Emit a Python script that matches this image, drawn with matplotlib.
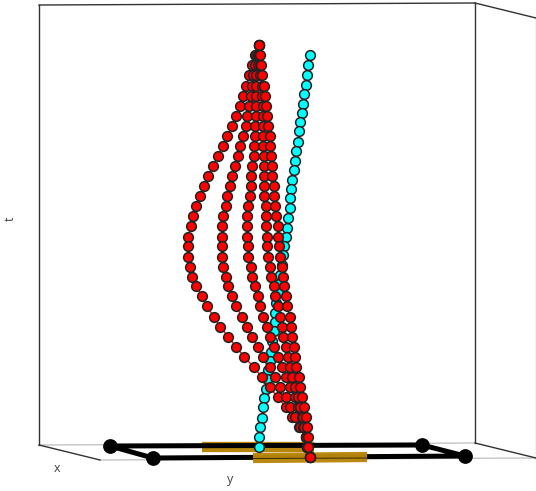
import matplotlib
matplotlib.use("Agg")
import matplotlib.pyplot as plt

# Projected positions (horizontal, vertical)
red_rows = [44.7,55,64.7,75,85.7,95.7,106,116,126.3,135.7,146,155.7,166,175.7,186,196,206.3,216,226,236.7,
            246,256.7,266.7,276.7,286,296.3,306.3,316.7,327,336.7,347.3,356.7,367.3,376.7,387.3,397.3,406.7,417.3,427.3,436.7,447.3,456.7]
red_1 = [258.7,255,252.3,249.3,246.3,243,240,236.3,232.3,227.3,223,217.7,213.3,208.3,204,200.3,196.3,193.3,191,188.3,
         188.3,188.3,189.7,192.3,196.3,201.7,207,213.7,220.3,228.3,236.3,244.3,253.7,261.7,269.7,277.7,285.7,292.3,299,305.7,307,309.7]
red_2 = [258.7,256.3,255,253.3,252.3,251,249.3,247,245.7,243,240.3,237.7,235,232.3,229.7,227,225.7,223,221.7,221.7,
         221.7,221.7,223,225.7,228.3,232.3,236.3,241.7,247,252.3,257.7,263,269.7,275,280.3,285.7,289.7,295,300.3,305.7,307,309.7]
red_3 = [258.7,257.7,257.7,256.3,256.3,256.3,256.3,256.3,255,255,253.7,253.7,252.3,251,251,249.7,248.3,247,247,247,
         248.3,248.3,251,252.3,255,257.7,260.3,263,267,269.7,273.7,277.7,281.7,285.7,289.7,295,297.7,301.7,303,305.7,307,309.7]
red_4 = [258.7,258.7,260,260,261.7,261.7,263,263,263,263,263,264.3,264.3,264.3,264.3,264.3,265.7,265.7,265.7,267,
         267,268.3,269.7,271,273.7,275,277.7,280.3,281.7,283,285.7,288.3,289.7,292.3,295,297.7,300.3,303,304.3,305.7,307,309.7]
red_5 = [258.7,260,261.3,262.3,263.7,265,265.7,267,268.3,269.7,270.3,271,271.7,272.3,273.7,273.7,275,276.3,277.7,277.7,
         279,280.3,281.7,283,284.3,285.7,287,289.7,291,292.3,293.7,295,296.3,299,300.3,301.7,304.3,305.7,307,308.3,308.3,309.7]
cyan_x = [309.7,308.3,307,305.7,304.3,303,301.7,300.3,299,297.7,296.3,295,293.7,292.3,291,289.7,289.7,288.3,287,285.7,
          284.3,283,281.7,280.3,279,277.7,276.3,275,275,273.7,272.3,271,269.7,268.3,267,265.7,264.3,263,261.7,260.3,259,259]
cyan_y = [55,64.7,75,85,94.3,103.7,112.7,122,131.3,142,151.3,161,170.3,179.7,189,198.3,207.7,218.3,227.7,236.7,
          246,255.3,265.3,274.7,284,293.3,303.3,312.7,322,331.3,340.7,352,360.7,370,379.3,389.3,398,407.3,418,427.3,436.7,446.7]
frame_x = [110,422,465,153,110]
frame_y = [446,445,456,458,446]
gold_a_x, gold_a_y = [202,314], [447,447]
gold_b_x, gold_b_y = [253,367], [458,457]
box_dark = [([39,39],[445,5]),([39,100],[445,460]),([39,475],[5,3]),([475,475],[3,443]),([475,536],[3,18]),([475,536],[443,458])]
box_light = [([39,475],[445,443]), ([100,536],[460,458]), ([535.5,535.5],[18,458])]
labels = [("x",57,469,0),("y",230,479,0),("t",10,219,90)]

fig = plt.figure(figsize=(5.36,4.91),dpi=100)
ax = fig.add_axes([0,0,1,1])
ax.set_xlim(0,536); ax.set_ylim(491,0); ax.axis("off")

for xs,ys in box_light:
    ax.plot(xs,ys,color="#c4c4c4",lw=1.0,zorder=1,clip_on=False)
for xs,ys in box_dark:
    ax.plot(xs,ys,color="#333333",lw=1.0,zorder=1,clip_on=False)

ax.plot(gold_a_x,gold_a_y,color="#b8860b",lw=7.4,solid_capstyle="butt",zorder=2)
ax.plot(frame_x,frame_y,color="black",lw=3.6,zorder=3)
ax.plot(frame_x[:-1],frame_y[:-1],"o",color="black",ms=9.6,zorder=3,ls="none")
ax.plot(gold_b_x,gold_b_y,color="#b8860b",lw=7.4,alpha=.97,solid_capstyle="butt",zorder=4)
ax.plot(gold_b_x,[458.5,458],color="#3a2c05",lw=.7,zorder=4)

ax.plot(cyan_x,cyan_y,"-o",color="#00ffff",lw=1,ms=7,mec="#222222",mew=1.1,zorder=5)
for s in (red_1,red_2,red_3,red_4,red_5):
    ax.plot(s,red_rows,"-o",color="#ff0000",lw=1,ms=7,mec="#222222",mew=1.1,zorder=6)

for t,x,y,r in labels:
    ax.text(x,y,t,fontsize=9,family="Open Sans",color="#444444",ha="center",va="center",rotation=r)

fig.savefig("out.png",dpi=100)
